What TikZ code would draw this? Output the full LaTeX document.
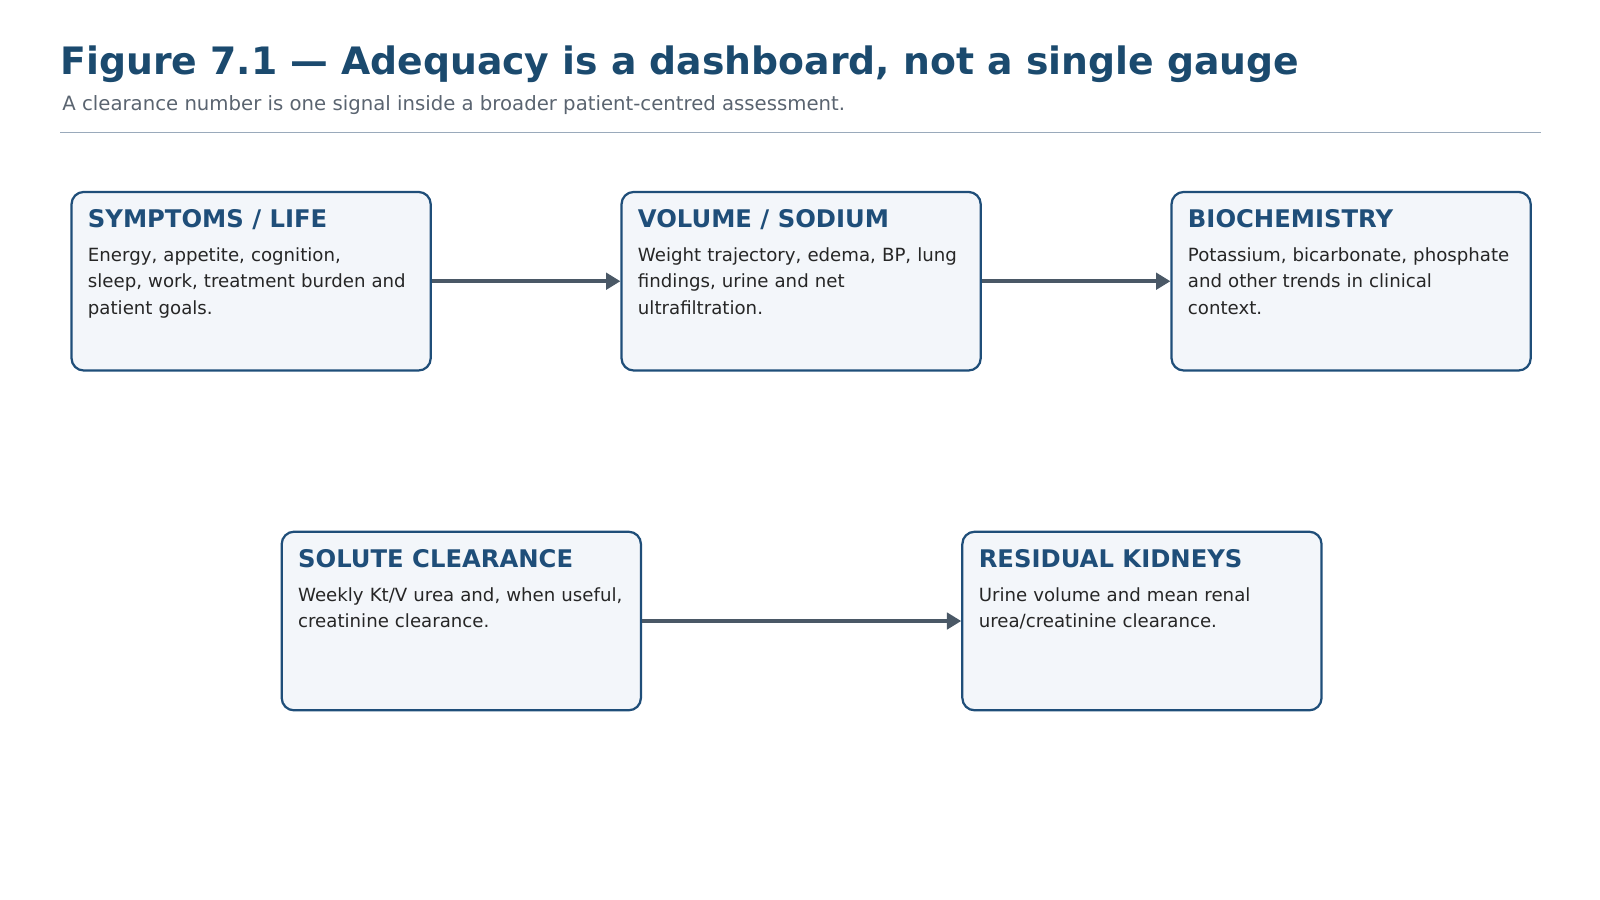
\documentclass[tikz,border=0pt]{standalone}
\usepackage{fontspec}
\setmainfont{DejaVu Sans}
\usetikzlibrary{arrows.meta}
\definecolor{titlec}{HTML}{1B4A6E}
\definecolor{boxc}{HTML}{1F4E79}
\definecolor{fillc}{HTML}{F3F6FA}
\definecolor{arrc}{HTML}{4A5866}
\definecolor{subc}{HTML}{5A6470}
\definecolor{rulec}{HTML}{9AAABB}
\begin{document}
\begin{tikzpicture}[x=1pt,y=-1pt,
  box/.style={draw=boxc,line width=2.2pt,fill=fillc,rounded corners=12pt,minimum width=352pt,minimum height=175pt,inner sep=0pt},
  btitle/.style={anchor=base west,font=\fontsize{23.8}{28}\selectfont\bfseries,text=boxc,inner sep=0pt},
  btext/.style={anchor=north west,font=\fontsize{17.8}{25.5}\selectfont,text=black!85,align=left,inner sep=0pt,text width=345pt},
  arr/.style={draw=arrc,line width=3.5pt,-{Triangle[length=14pt,width=16pt]}}]
\useasboundingbox (0,0) rectangle (1568,882);
\node[anchor=base west,inner sep=0pt,font=\fontsize{37}{44}\selectfont\bfseries,text=titlec] (t) at (59,73) {Figure 7.1 — Adequacy is a dashboard, not a single gauge};
\node[anchor=base west,inner sep=0pt,font=\fontsize{19.3}{22}\selectfont,text=subc] (s) at (61,108) {A clearance number is one signal inside a broader patient-centred assessment.};
\draw[rulec,line width=1.5pt] (59,130) coordinate (r1) -- (1510,130) coordinate (r2);
\newcommand{\mybox}[5]{%
  \node[box,anchor=north west] (#1) at (#2,#3) {};
  \node[btitle] (#1t) at ([xshift=17pt,yshift=-36pt]#1.north west) {#4};
  \node[btext] (#1b) at ([xshift=17pt,yshift=-56pt]#1.north west) {#5};}
\mybox{a}{69}{187}{SYMPTOMS / LIFE}{Energy, appetite, cognition,\\sleep, work, treatment burden and\\patient goals.}
\mybox{b}{608}{187}{VOLUME / SODIUM}{Weight trajectory, edema, BP, lung\\findings, urine and net\\ultrafiltration.}
\mybox{c}{1147}{187}{BIOCHEMISTRY}{Potassium, bicarbonate, phosphate\\and other trends in clinical\\context.}
\mybox{d}{275}{520}{SOLUTE CLEARANCE}{Weekly Kt/V urea and, when useful,\\creatinine clearance.}
\mybox{e}{942}{520}{RESIDUAL KIDNEYS}{Urine volume and mean renal\\urea/creatinine clearance.}
\draw[arr] (a.east) -- (b.west);
\draw[arr] (b.east) -- (c.west);
\draw[arr] (d.east) -- (e.west);
\end{tikzpicture}
\end{document}
